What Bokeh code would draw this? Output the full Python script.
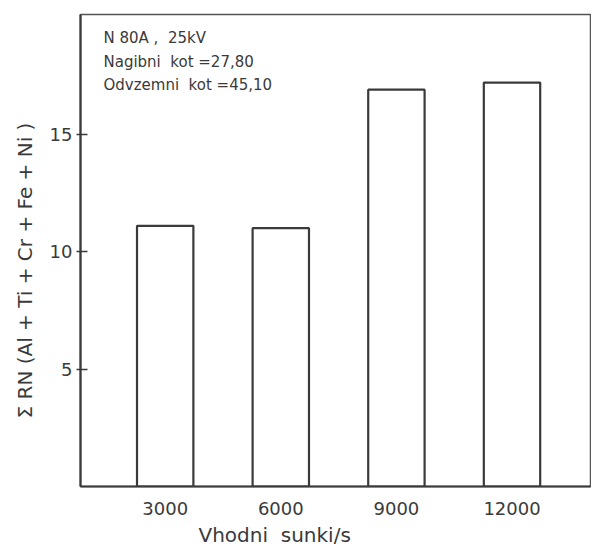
from bokeh.plotting import figure
from bokeh.models import Range1d, FixedTicker, Label, Title
from bokeh.embed import file_html
from bokeh.resources import INLINE

# data
pulses = [3000, 6000, 9000, 12000]
rn_sum = [11.1, 11.0, 16.9, 17.2]
y_ticks = [5, 10, 15]
info_lines = ["N 80A ,\u00a0 25kV", "Nagibni\u00a0 kot =27,80", "Odvzemni\u00a0 kot =45,10"]
x_title = "Vhodni\u00a0 sunki/s"
y_title = "\u03a3 RN (Al + Ti + Cr + Fe + Ni )"

FONT = "DejaVu Sans"
INK = "#3a3a3a"

p = figure(width=591, height=549, output_backend="svg", toolbar_location=None,
           x_range=Range1d(802, 14037), y_range=Range1d(0, 20.1),
           min_border_left=79, min_border_right=1, min_border_top=14, min_border_bottom=63)
p.background_fill_color = "white"
p.border_fill_color = "white"
p.outline_line_color = "#555555"
p.outline_line_width = 1.5
p.xgrid.visible = False
p.ygrid.visible = False

p.vbar(x=pulses, top=rn_sum, bottom=0, width=1463, fill_color="white",
       line_color=INK, line_width=2.2)

# axes
p.xaxis.ticker = FixedTicker(ticks=pulses)
p.xaxis.major_tick_line_color = None
p.xaxis.minor_tick_line_color = None
p.xaxis.axis_line_color = INK
p.xaxis.axis_line_width = 2.2
p.xaxis.major_label_text_font = FONT
p.xaxis.major_label_text_font_size = "18px"
p.xaxis.major_label_text_color = INK
p.xaxis.major_label_standoff = 9

p.yaxis.ticker = FixedTicker(ticks=y_ticks)
p.yaxis.minor_tick_line_color = None
p.yaxis.axis_line_color = INK
p.yaxis.axis_line_width = 2.2
p.yaxis.major_tick_line_color = INK
p.yaxis.major_tick_line_width = 1.5
p.yaxis.major_tick_in = 7
p.yaxis.major_tick_out = 4
p.yaxis.major_label_text_font = FONT
p.yaxis.major_label_text_font_size = "18px"
p.yaxis.major_label_text_color = INK
p.yaxis.major_label_standoff = 4

p.add_layout(Title(text=x_title, align="left", offset=118, text_font=FONT,
                   text_font_size="20px", text_font_style="normal",
                   text_color=INK, standoff=6), "below")
p.add_layout(Title(text=y_title, align="left", offset=68, text_font=FONT,
                   text_font_size="20px", text_font_style="normal",
                   text_color=INK, standoff=20), "left")

for txt, yy in zip(info_lines, [19.1, 18.08, 17.1]):
    p.add_layout(Label(x=1398, y=yy, text=txt, text_font=FONT,
                       text_font_size="15px", text_color=INK,
                       text_align="left", text_baseline="middle"))

open("out.html", "w").write(file_html(p, INLINE))
